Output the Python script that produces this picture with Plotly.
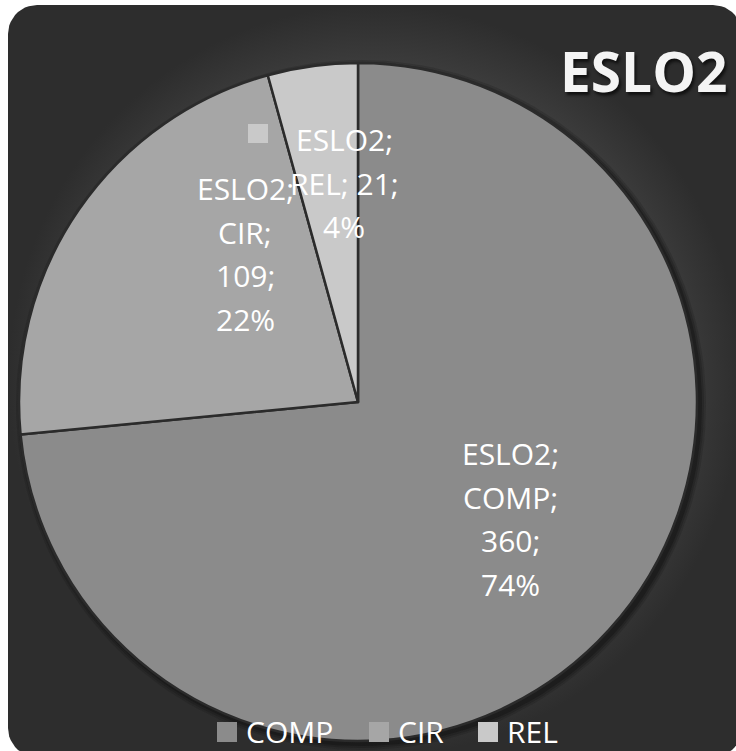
import plotly.graph_objects as go
import numpy as np

# ---- data ----
corpus = "ESLO2"
categories = ["COMP", "CIR", "REL"]
values = [360, 109, 21]
label_seps = ["\n", "\n", " "]

# ---- style ----
W, H = 736, 751
slice_colors = ["#8b8b8b", "#a6a6a6", "#c9c9c9"]
label_pos_px = [(511, 519), (245, 254), (344, 183)]   # pixels (block centres)
LINE_PX = 43.5
FONT = "Open Sans"


def px(x):
    return x / W


def py(y):
    return 1 - y / H


# percentages rounded so they add up to 100 (largest remainder)
total = sum(values)
raw = [v * 100 / total for v in values]
pcts = [int(np.floor(r)) for r in raw]
for i in sorted(range(len(raw)), key=lambda i: raw[i] - pcts[i], reverse=True)[:100 - sum(pcts)]:
    pcts[i] += 1

fig = go.Figure()

# rounded dark background (gradient) drawn on a hidden pixel-space axis
x0, y0, x1, y1, r = 8, 5, 742, 757, 29
pts = []
for cx_, cy_, a0 in [(x0 + r, y0 + r, 180), (x1 - r, y0 + r, 270),
                     (x1 - r, y1 - r, 0), (x0 + r, y1 - r, 90)]:
    for a in np.linspace(a0, a0 + 90, 12):
        t = np.radians(a)
        pts.append((cx_ + r * np.cos(t), cy_ + r * np.sin(t)))
pts.append(pts[0])
bx, by = zip(*pts)
fig.add_trace(go.Scatter(
    x=bx, y=by, mode="lines", fill="toself", line=dict(width=0, color="#383838"),
    fillgradient=dict(type="radial",
                      colorscale=[[0, "#525252"], [0.6, "#4a4a4a"], [0.82, "#3e3e3e"], [1, "#2d2d2d"]]),
    hoverinfo="skip", showlegend=False))

# pie geometry
cx, cy, R = 358, 402, 339

# soft drop shadow behind the pie
for dr, alpha in [(6, 0.18), (4, 0.25), (2, 0.35)]:
    t = np.linspace(0, 2 * np.pi, 181)
    fig.add_trace(go.Scatter(
        x=cx + 3 + (R + dr) * np.cos(t), y=cy + 3 + (R + dr) * np.sin(t),
        mode="lines", fill="toself", line=dict(width=0),
        fillcolor=f"rgba(15,15,15,{alpha})", hoverinfo="skip", showlegend=False))

fig.add_trace(go.Pie(
    labels=categories, values=values, sort=False, direction="clockwise",
    rotation=0, textinfo="none", showlegend=False,
    marker=dict(colors=slice_colors, line=dict(color="#2b2b2b", width=2.5)),
    domain=dict(x=[px(cx - R), px(cx + R)], y=[py(cy + R), py(cy - R)]),
))

annotations = []
for cat, v, p, sep, (lx, ly) in zip(categories, values, pcts, label_seps, label_pos_px):
    lines = f"{corpus};\n{cat};{sep}{v};\n{p}%".split("\n")
    n = len(lines)
    for k, line in enumerate(lines):
        yy = ly + (k - (n - 1) / 2) * LINE_PX
        annotations.append(dict(
            x=px(lx), y=py(yy), xref="paper", yref="paper", showarrow=False,
            xanchor="center", yanchor="middle", text=line,
            font=dict(family=FONT, size=30, color="#ffffff")))

# title
annotations.append(dict(
    x=px(643), y=py(70), xref="paper", yref="paper", showarrow=False,
    xanchor="center", yanchor="middle",
    text=f"<b>{corpus}</b>",
    font=dict(family=FONT, size=55, color="#f4f4f4", shadow="2px 3px 3px #111")))

shapes = []
# small legend key inside the REL label
shapes.append(dict(type="rect", xref="paper", yref="paper",
                   x0=px(248), x1=px(268), y0=py(143), y1=py(124),
                   fillcolor=slice_colors[2], line=dict(width=0), layer="above"))

# custom legend
leg_sq_x = [217, 369, 478]
for cat, col, sx in zip(categories, slice_colors, leg_sq_x):
    shapes.append(dict(type="rect", xref="paper", yref="paper",
                       x0=px(sx), x1=px(sx + 20), y0=py(742), y1=py(722),
                       fillcolor=col, line=dict(width=0), layer="above"))
    annotations.append(dict(
        x=px(sx + 27), y=py(731), xref="paper", yref="paper", showarrow=False,
        xanchor="left", yanchor="middle", text=cat,
        font=dict(family=FONT, size=30, color="#ffffff")))

fig.update_layout(
    width=W, height=H, margin=dict(l=0, r=0, t=0, b=0),
    paper_bgcolor="#ffffff", plot_bgcolor="rgba(0,0,0,0)",
    xaxis=dict(range=[0, W], visible=False, domain=[0, 1], fixedrange=True),
    yaxis=dict(range=[H, 0], visible=False, domain=[0, 1], fixedrange=True),
    annotations=annotations, shapes=shapes, showlegend=False,
)

fig.write_html(
    "out.html",
    config={"displayModeBar": False},
    post_script="document.body.style.margin='0';document.body.style.overflow='hidden';",
)
